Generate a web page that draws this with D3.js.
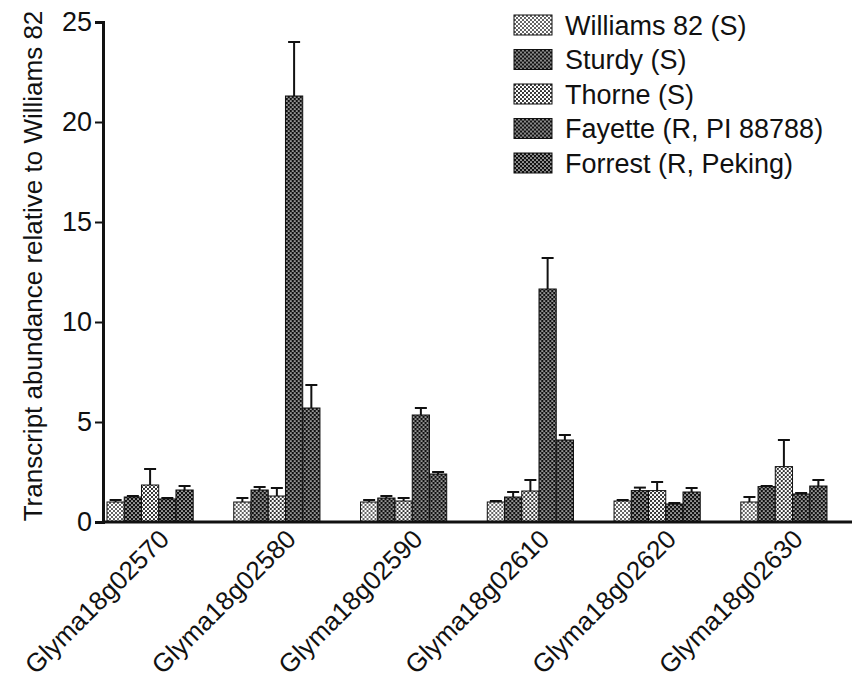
<!DOCTYPE html>
<html>
<head>
<meta charset="utf-8">
<script src="https://cdn.jsdelivr.net/npm/d3@7/dist/d3.min.js"></script>
<style>
  body { margin: 0; background: #fff; }
  text { font-family: "Liberation Sans", Arial, sans-serif; fill: #111; }
</style>
</head>
<body>
<svg id="chart" width="857" height="686"></svg>
<script>
// data
var genes = ["Glyma18g02570", "Glyma18g02580", "Glyma18g02590", "Glyma18g02610", "Glyma18g02620", "Glyma18g02630"];
var cultivars = ["Williams 82 (S)", "Sturdy (S)", "Thorne (S)", "Fayette (R, PI 88788)", "Forrest (R, Peking)"];
var means = [
  [1.0, 1.25, 1.85, 1.15, 1.6],
  [1.0, 1.6, 1.3, 21.3, 5.7],
  [1.0, 1.2, 1.05, 5.35, 2.4],
  [1.0, 1.25, 1.55, 11.65, 4.1],
  [1.05, 1.57, 1.57, 0.9, 1.5],
  [1.0, 1.77, 2.77, 1.4, 1.8]
];
var errTops = [
  [1.1, 1.3, 2.65, 1.2, 1.8],
  [1.2, 1.75, 1.7, 24.0, 6.85],
  [1.1, 1.3, 1.2, 5.7, 2.5],
  [1.05, 1.5, 2.1, 13.2, 4.35],
  [1.1, 1.72, 2.0, 0.95, 1.7],
  [1.25, 1.8, 4.1, 1.45, 2.1]
];
var yTicks = [0, 5, 10, 15, 20, 25];
var patterns = ["light", "dark", "light2", "dark", "dark"];

var svg = d3.select("#chart");
var defs = svg.append("defs");

function lightPattern(id, r) {
  var p = defs.append("pattern").attr("id", id).attr("patternUnits", "userSpaceOnUse")
    .attr("width", 4).attr("height", 4);
  p.append("rect").attr("width", 4).attr("height", 4).attr("fill", "#fff");
  p.append("circle").attr("cx", 1).attr("cy", 1).attr("r", r).attr("fill", "#222");
  p.append("circle").attr("cx", 3).attr("cy", 3).attr("r", r).attr("fill", "#222");
}
lightPattern("light", 0.95);
lightPattern("light2", 1.1);
var pd = defs.append("pattern").attr("id", "dark").attr("patternUnits", "userSpaceOnUse")
  .attr("width", 4).attr("height", 4);
pd.append("rect").attr("width", 4).attr("height", 4).attr("fill", "#111");
pd.append("circle").attr("cx", 1).attr("cy", 1).attr("r", 0.85).attr("fill", "#fff");
pd.append("circle").attr("cx", 3).attr("cy", 3).attr("r", 0.85).attr("fill", "#fff");

var y = d3.scaleLinear().domain([0, 25]).range([522, 22]);
var x0 = d3.scaleBand().domain(genes).range([107, 827]).paddingInner(0.32).paddingOuter(0);
var x1 = d3.scaleBand().domain(cultivars).range([0, x0.bandwidth()]);

// bars
var groups = svg.append("g").selectAll("g").data(genes).join("g")
  .attr("transform", function(d) { return "translate(" + x0(d) + ",0)"; });

groups.each(function(g, gi) {
  var sel = d3.select(this);
  var rows = cultivars.map(function(c, ci) { return { c: c, ci: ci, v: means[gi][ci], e: errTops[gi][ci] }; });
  // error bars first, bars drawn over their base
  sel.selectAll("line.err").data(rows).join("line").attr("class", "err")
    .attr("x1", function(d) { return x1(d.c) + x1.bandwidth() / 2; })
    .attr("x2", function(d) { return x1(d.c) + x1.bandwidth() / 2; })
    .attr("y1", function(d) { return y(d.v); })
    .attr("y2", function(d) { return y(d.e); })
    .attr("stroke", "#111").attr("stroke-width", 2);
  sel.selectAll("line.cap").data(rows).join("line").attr("class", "cap")
    .attr("x1", function(d) { return x1(d.c) + x1.bandwidth() / 2 - 6; })
    .attr("x2", function(d) { return x1(d.c) + x1.bandwidth() / 2 + 6; })
    .attr("y1", function(d) { return y(d.e); })
    .attr("y2", function(d) { return y(d.e); })
    .attr("stroke", "#111").attr("stroke-width", 2);
  sel.selectAll("rect").data(rows).join("rect")
    .attr("x", function(d) { return x1(d.c); })
    .attr("y", function(d) { return y(d.v); })
    .attr("width", x1.bandwidth())
    .attr("height", function(d) { return y(0) - y(d.v); })
    .attr("fill", function(d) { return "url(#" + patterns[d.ci] + ")"; })
    .attr("stroke", "#111").attr("stroke-width", 1);
});

// y axis
var yAxis = svg.append("g").attr("transform", "translate(103,0)")
  .call(d3.axisLeft(y).tickValues(yTicks).tickSize(8).tickPadding(3));
yAxis.select(".domain").attr("stroke", "#111").attr("stroke-width", 3);
yAxis.selectAll(".tick line").attr("stroke", "#111").attr("stroke-width", 2);
yAxis.selectAll(".tick text").attr("font-size", 27).attr("fill", "#111")
  .style("font-family", "'Liberation Sans', Arial, sans-serif");

// x axis
var xAxis = svg.append("g").attr("transform", "translate(0,522)")
  .call(d3.axisBottom(x0).tickSize(0).tickPadding(16));
xAxis.select(".domain").attr("d", "M102,0H852").attr("stroke", "#111").attr("stroke-width", 3);
xAxis.selectAll(".tick text").attr("font-size", 26).attr("fill", "#111")
  .style("font-family", "'Liberation Sans', Arial, sans-serif")
  .attr("text-anchor", "end").attr("dy", "0.4em")
  .attr("transform", "translate(2,0) rotate(-45)");

// y title
svg.append("text").attr("transform", "translate(42,266) rotate(-90)")
  .attr("text-anchor", "middle").attr("font-size", 26)
  .text("Transcript abundance relative to Williams 82");

// legend
var legend = svg.append("g").selectAll("g").data(cultivars).join("g")
  .attr("transform", function(d, i) { return "translate(514," + (15 + i * 34.5) + ")"; });
legend.append("rect").attr("width", 38).attr("height", 20)
  .attr("fill", function(d, i) { return "url(#" + patterns[i] + ")"; })
  .attr("stroke", "#111").attr("stroke-width", 1);
legend.append("text").attr("x", 51).attr("y", 10).attr("dy", "0.36em")
  .attr("font-size", 27).text(function(d) { return d; });
</script>
</body>
</html>
